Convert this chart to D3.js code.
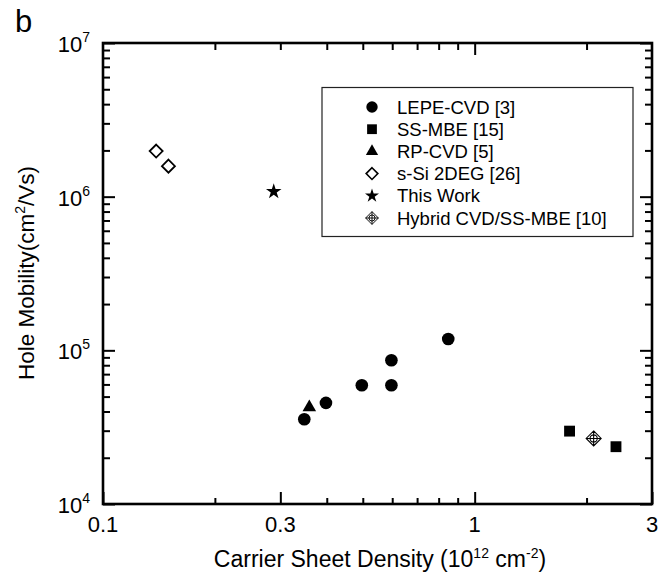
<!DOCTYPE html>
<html>
<head>
<meta charset="utf-8">
<script src="https://cdn.jsdelivr.net/npm/d3@7.9.0/dist/d3.min.js"></script>
<style>
  body { margin: 0; background: #fff; }
  text { font-family: "Liberation Sans", Arial, sans-serif; fill: #000; }
</style>
</head>
<body>
<svg id="chart" width="668" height="574"></svg>
<script>
// ---- data ----
const lepeX = [0.348, 0.398, 0.497, 0.597, 0.597, 0.849];
const lepeY = [35600, 45500, 59300, 59300, 86200, 118600];
const ssmbeX = [1.80, 2.40];
const ssmbeY = [29800, 23600];
const rpcvdX = [0.359];
const rpcvdY = [42600];
const ssiX = [0.139, 0.150];
const ssiY = [1.98e6, 1.58e6];
const workX = [0.288];
const workY = [1.08e6];
const hybridX = [2.09];
const hybridY = [26700];

const legendLabels = ["LEPE-CVD [3]", "SS-MBE [15]", "RP-CVD [5]", "s-Si 2DEG [26]", "This Work", "Hybrid CVD/SS-MBE [10]"];
const xLabelTicks = [0.1, 0.3, 1, 3];
const yLabelTicks = [1e4, 1e5, 1e6, 1e7];

// ---- layout ----
const pLeft = 103, pRight = 652, pTop = 43, pBottom = 504;
const svg = d3.select("#chart");

const x = d3.scaleLog().domain([0.1, 3]).range([pLeft, pRight]);
const y = d3.scaleLog().domain([1e4, 1e7]).range([pBottom, pTop]);

// marker shapes
const shapes = {
  circle: d3.symbol().type(d3.symbolCircle).size(125)(),
  square: d3.symbol().type(d3.symbolSquare).size(118)(),
  triangle: d3.symbol().type(d3.symbolTriangle).size(80)(),
  star: d3.symbol().type(d3.symbolStar).size(75)(),
  diamond: "M0,-6.5L6.5,0L0,6.5L-6.5,0Z",
  hybrid: "M0,-7.5L7.5,0L0,7.5L-7.5,0Z M-3.6,0a3.6,3.6 0 1,0 7.2,0a3.6,3.6 0 1,0 -7.2,0 M0,-7.5L0,7.5 M-7.5,0L7.5,0"
};

const series = [
  { xs: lepeX, ys: lepeY, shape: "circle", filled: true },
  { xs: ssmbeX, ys: ssmbeY, shape: "square", filled: true },
  { xs: rpcvdX, ys: rpcvdY, shape: "triangle", filled: true },
  { xs: ssiX, ys: ssiY, shape: "diamond", filled: false },
  { xs: workX, ys: workY, shape: "star", filled: true },
  { xs: hybridX, ys: hybridY, shape: "hybrid", filled: false }
];

function styleMarker(sel, s) {
  sel.attr("fill", s.filled ? "#000" : "#fff")
    .attr("stroke", "#000")
    .attr("stroke-width", s.filled ? 0 : (s.shape === "hybrid" ? 1.1 : 1.8));
}

// ---- ticks (inward, all four sides) ----
const xMinor = x.ticks().filter(v => !xLabelTicks.includes(v));
const yMinor = y.ticks().filter(v => !yLabelTicks.includes(v));

function tickG(axis, tx, ty) {
  const g = svg.append("g").attr("transform", `translate(${tx},${ty})`).call(axis);
  g.select(".domain").remove();
  g.selectAll("text").remove();
  g.selectAll("line").attr("stroke", "#000").attr("stroke-width", 2);
  return g;
}

// bottom
tickG(d3.axisBottom(x).tickValues(xMinor).tickSize(-6), 0, pBottom);
tickG(d3.axisBottom(x).tickValues(xLabelTicks).tickSize(-12), 0, pBottom);
// top
tickG(d3.axisTop(x).tickValues(xMinor.concat([0.3])).tickSize(-7), 0, pTop);
tickG(d3.axisTop(x).tickValues([1]).tickSize(-12), 0, pTop);
// left
tickG(d3.axisLeft(y).tickValues(yMinor).tickSize(-7), pLeft, 0);
tickG(d3.axisLeft(y).tickValues(yLabelTicks).tickSize(-12), pLeft, 0);
// right
tickG(d3.axisRight(y).tickValues(yMinor).tickSize(-7), pRight, 0);
tickG(d3.axisRight(y).tickValues(yLabelTicks).tickSize(-12), pRight, 0);

// frame
svg.append("rect")
  .attr("x", pLeft).attr("y", pTop)
  .attr("width", pRight - pLeft).attr("height", pBottom - pTop)
  .attr("fill", "none").attr("stroke", "#000").attr("stroke-width", 2.6);

// tick labels
svg.append("g").selectAll("text").data(xLabelTicks).join("text")
  .attr("x", d => x(d)).attr("y", 532)
  .attr("text-anchor", "middle").attr("font-size", 22)
  .text(d => d);

const yl = svg.append("g").selectAll("text").data(yLabelTicks).join("text")
  .attr("x", 90).attr("y", d => y(d) + 9)
  .attr("text-anchor", "end").attr("font-size", 22);
yl.append("tspan").text("10");
yl.append("tspan").attr("font-size", 14).attr("dy", -10).text(d => Math.round(Math.log10(d)));

// axis titles
const xt = svg.append("text").attr("x", 380).attr("y", 567)
  .attr("text-anchor", "middle").attr("font-size", 23);
xt.append("tspan").text("Carrier Sheet Density (10");
xt.append("tspan").attr("font-size", 14).attr("dy", -9).text("12");
xt.append("tspan").attr("dy", 9).text(" cm");
xt.append("tspan").attr("font-size", 14).attr("dy", -9).text("-2");
xt.append("tspan").attr("dy", 9).text(")");

const yt = svg.append("text")
  .attr("transform", "translate(34,273) rotate(-90)")
  .attr("text-anchor", "middle").attr("font-size", 22.5);
yt.append("tspan").text("Hole Mobility(cm");
yt.append("tspan").attr("font-size", 14).attr("dy", -9).text("2");
yt.append("tspan").attr("dy", 9).text("/Vs)");

// panel letter
svg.append("text").attr("x", 15).attr("y", 32).attr("font-size", 31).text("b");

// ---- data markers ----
series.forEach(s => {
  const pts = s.xs.map((v, i) => [v, s.ys[i]]);
  svg.append("g").selectAll("path").data(pts).join("path")
    .attr("d", shapes[s.shape])
    .attr("transform", d => `translate(${x(d[0])},${y(d[1])})`)
    .call(sel => styleMarker(sel, s));
});

// ---- legend ----
const lg = svg.append("g");
lg.append("rect").attr("x", 322).attr("y", 87.5).attr("width", 311).attr("height", 149)
  .attr("fill", "#fff").attr("stroke", "#222").attr("stroke-width", 1.2);

const row = d3.scalePoint().domain(legendLabels).range([107, 218]);
legendLabels.forEach((lab, i) => {
  const s = series[i];
  lg.append("path").attr("d", shapes[s.shape])
    .attr("transform", `translate(372,${row(lab)}) scale(${s.shape === "hybrid" ? 0.85 : 0.9})`)
    .call(sel => styleMarker(sel, s));
  lg.append("text").attr("x", 397).attr("y", row(lab) + 6.5)
    .attr("font-size", 18.5).text(lab);
});
</script>
</body>
</html>
